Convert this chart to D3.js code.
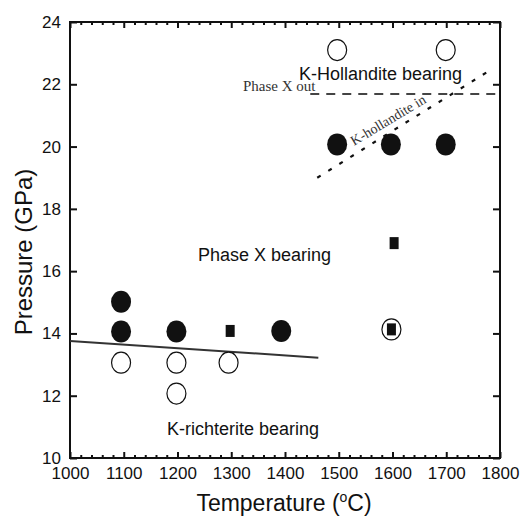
<!DOCTYPE html>
<html>
<head>
<meta charset="utf-8">
<script src="https://cdn.jsdelivr.net/npm/d3@7"></script>
<style>
  body { margin: 0; background: #fff; }
  text { font-family: "Liberation Sans", Arial, sans-serif; fill: #111; }
  .serif { font-family: "Liberation Serif", "Times New Roman", serif; fill: #333; }
</style>
</head>
<body>
<script>
// experiment results, temperature (C) and pressure (GPa)
var filledT = [1095, 1095, 1198, 1393, 1497, 1597, 1699]
  , filledP = [15.02, 14.06, 14.06, 14.08, 20.07, 20.07, 20.07]
  , openT = [1095, 1198, 1198, 1295, 1497, 1699, 1598]
  , openP = [13.06, 13.06, 12.07, 13.06, 23.1, 23.1, 14.13]
  , squareT = [1298, 1603, 1598]
  , squareP = [14.08, 16.9, 14.13]
  ;

// phase boundaries
var richteriteT = [1000, 1462], richteriteP = [13.76, 13.22]
  , phaseXOutT = [1447, 1800], phaseXOutP = [21.69, 21.69]
  , hollanditeT = [1460, 1787], hollanditeP = [19.0, 22.51]
  ;

var xTicks = [1000, 1100, 1200, 1300, 1400, 1500, 1600, 1700, 1800]
  , yTicks = [10, 12, 14, 16, 18, 20, 22, 24]
  ;

var width = 528, height = 517
  , padLeft = 70, padTop = 22, padRight = 500, padBottom = 458
  ;

var svg = d3.select("body").append("svg").attr("width", width).attr("height", height);

var x = d3.scaleLinear().domain([1000, 1800]).range([padLeft, padRight])
  , y = d3.scaleLinear().domain([10, 24]).range([padBottom, padTop])
  ;

function style (g) {
    g.select(".domain").remove();
    g.selectAll("line").attr("stroke", "#111").attr("stroke-width", 2);
    g.selectAll("text").attr("font-size", 17).attr("fill", "#111");
}

// minor ticks every 20 C, bottom and top
var minor = d3.range(1000, 1801, 20).filter(function (d) { return d % 100; });
svg.append("g").attr("transform", "translate(0," + padBottom + ")")
    .call(d3.axisBottom(x).tickValues(minor).tickSize(-3).tickFormat(""))
    .call(style);
svg.append("g").attr("transform", "translate(0," + padTop + ")")
    .call(d3.axisTop(x).tickValues(minor).tickSize(-3).tickFormat(""))
    .call(style);

svg.append("g").attr("transform", "translate(0," + padBottom + ")")
    .call(d3.axisBottom(x).tickValues(xTicks).tickSize(-6).tickPadding(9).tickFormat(d3.format("d")))
    .call(style);
svg.append("g").attr("transform", "translate(0," + padTop + ")")
    .call(d3.axisTop(x).tickValues(xTicks).tickSize(-6).tickFormat(""))
    .call(style);
svg.append("g").attr("transform", "translate(" + padLeft + ",0)")
    .call(d3.axisLeft(y).tickValues(yTicks).tickSize(-7).tickPadding(9))
    .call(style);
svg.append("g").attr("transform", "translate(" + padRight + ",0)")
    .call(d3.axisRight(y).tickValues(yTicks).tickSize(-7).tickFormat(""))
    .call(style);

// frame
svg.append("rect")
    .attr("x", padLeft).attr("y", padTop)
    .attr("width", padRight - padLeft).attr("height", padBottom - padTop)
    .attr("fill", "none").attr("stroke", "#111").attr("stroke-width", 2);

// boundaries
var line = d3.line().x(function (d) { return x(d[0]); }).y(function (d) { return y(d[1]); });

svg.append("path").datum(d3.zip(richteriteT, richteriteP))
    .attr("d", line).attr("fill", "none").attr("stroke", "#333").attr("stroke-width", 2);
svg.append("path").datum(d3.zip(phaseXOutT, phaseXOutP))
    .attr("d", line).attr("fill", "none").attr("stroke", "#444").attr("stroke-width", 2)
    .attr("stroke-dasharray", "9,7");
svg.append("path").datum(d3.zip(hollanditeT, hollanditeP))
    .attr("d", line).attr("fill", "none").attr("stroke", "#111").attr("stroke-width", 2.2)
    .attr("stroke-dasharray", "4,9");

// markers
svg.append("g").selectAll("ellipse").data(d3.zip(openT, openP)).join("ellipse")
    .attr("cx", function (d) { return x(d[0]); })
    .attr("cy", function (d) { return y(d[1]); })
    .attr("rx", 9.5).attr("ry", 10.5)
    .attr("fill", "#fff").attr("stroke", "#111").attr("stroke-width", 1.2);

svg.append("g").selectAll("ellipse").data(d3.zip(filledT, filledP)).join("ellipse")
    .attr("cx", function (d) { return x(d[0]); })
    .attr("cy", function (d) { return y(d[1]); })
    .attr("rx", 10).attr("ry", 11)
    .attr("fill", "#111");

svg.append("g").selectAll("rect").data(d3.zip(squareT, squareP)).join("rect")
    .attr("x", function (d) { return x(d[0]) - 4.5; })
    .attr("y", function (d) { return y(d[1]) - 6; })
    .attr("width", 9).attr("height", 12)
    .attr("fill", "#111");

// field labels
svg.append("text").attr("x", 299).attr("y", 80).attr("font-size", 18).text("K-Hollandite bearing");
svg.append("text").attr("x", 198).attr("y", 261).attr("font-size", 18).text("Phase X bearing");
svg.append("text").attr("x", 167).attr("y", 435).attr("font-size", 18).text("K-richterite bearing");
svg.append("text").attr("class", "serif").attr("x", 243).attr("y", 91).attr("font-size", 15).text("Phase X out");
svg.append("text").attr("class", "serif").attr("font-size", 14)
    .attr("transform", "translate(354,146) rotate(-31)").text("K-hollandite in");

// axis titles
svg.append("text").attr("x", 284).attr("y", 511).attr("text-anchor", "middle").attr("font-size", 23)
    .html('Temperature (<tspan font-size="14" dy="-9">o</tspan><tspan dy="9">C)</tspan>');
svg.append("text").attr("transform", "translate(32,252) rotate(-90)")
    .attr("text-anchor", "middle").attr("font-size", 24).text("Pressure (GPa)");
</script>
</body>
</html>
